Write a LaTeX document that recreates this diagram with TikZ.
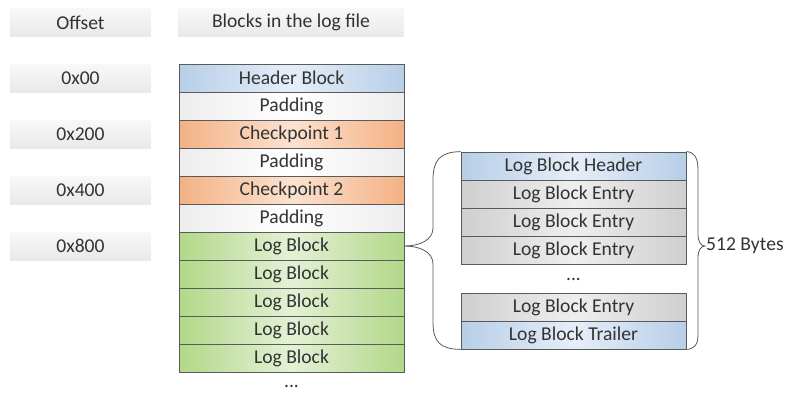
\documentclass[tikz,border=0pt]{standalone}
\usepackage{fontspec}
\setmainfont{Carlito}
\definecolor{txt}{HTML}{333333}
\definecolor{bord}{HTML}{5A5A5A}
\definecolor{blueE}{HTML}{B7CEE8}
\definecolor{blueM}{HTML}{E6EEF8}
\definecolor{orgE}{HTML}{F4B184}
\definecolor{orgM}{HTML}{FBE2D0}
\definecolor{whE}{HTML}{EDEDED}
\definecolor{grnE}{HTML}{B2D889}
\definecolor{grnM}{HTML}{E4F1D6}
\definecolor{gryE}{HTML}{CFCFCF}
\definecolor{gryM}{HTML}{EEEEEE}
\definecolor{lblT}{HTML}{F8F8F8}
\definecolor{lblB}{HTML}{E9E9E9}
\begin{document}
\begin{tikzpicture}[x=1pt,y=-1pt,
  every node/.style={font=\fontsize{19.6}{22}\selectfont, text=txt, inner sep=0pt},
  blk/.style={draw=bord, line width=0.8pt, minimum width=225pt, minimum height=28pt},
  hdrblk/.style={blk, left color=blueE, right color=blueE, middle color=blueM},
  padblk/.style={blk, left color=whE, right color=whE, middle color=white},
  cpblk/.style={blk, left color=orgE, right color=orgE, middle color=orgM},
  logblk/.style={blk, left color=grnE, right color=grnE, middle color=grnM},
  entblk/.style={blk, left color=gryE, right color=gryE, middle color=gryM},
  lbl/.style={minimum width=141pt, minimum height=28pt, top color=lblT, bottom color=lblB},
  brc/.style={draw=bord, line width=0.8pt}]
\useasboundingbox (0,0) rectangle (793,394);
% column titles
\node[lbl] (toff) at (80.5,22.5) {Offset};
\node[lbl, minimum width=226pt] (tblk) at (291,22.5) {Blocks in the log file};
% left column blocks
\node[hdrblk] (b1) at (291.5,78) {Header Block};
\node[padblk] (b2) at (291.5,106) {Padding};
\node[cpblk]  (b3) at (291.5,134) {Checkpoint 1};
\node[padblk] (b4) at (291.5,162) {Padding};
\node[cpblk]  (b5) at (291.5,190) {Checkpoint 2};
\node[padblk] (b6) at (291.5,218) {Padding};
\node[logblk] (b7) at (291.5,246) {Log Block};
\node[logblk] (b8) at (291.5,274) {Log Block};
\node[logblk] (b9) at (291.5,302) {Log Block};
\node[logblk] (b10) at (291.5,330) {Log Block};
\node[logblk] (b11) at (291.5,358) {Log Block};
\node (bdots) at (291.5,386) {...};
% offsets
\node[lbl] (o1) at (80.5,78) {0x00};
\node[lbl] (o2) at (80.5,134) {0x200};
\node[lbl] (o3) at (80.5,190) {0x400};
\node[lbl] (o4) at (80.5,246) {0x800};
% right column
\node[hdrblk] (r1) at (573.5,166) {Log Block Header};
\node[entblk] (r2) at (573.5,194) {Log Block Entry};
\node[entblk] (r3) at (573.5,222) {Log Block Entry};
\node[entblk] (r4) at (573.5,250) {Log Block Entry};
\node (rdots) at (573.5,279) {...};
\node[entblk] (r5) at (573.5,307) {Log Block Entry};
\node[hdrblk] (r6) at (573.5,335) {Log Block Trailer};
% braces
\draw[brc] (r1.north west) .. controls (440,152) and (433,160) .. (433,180)
  -- (433,228) .. controls (433,240) and (420,246) .. (b7.east);
\draw[brc] (b7.east) .. controls (420,246) and (433,252) .. (433,264)
  -- (433,322) .. controls (433,342) and (440,349) .. (r6.south west);
\coordinate (tip) at (705,246);
\draw[brc] (r1.north east) .. controls (694,152) and (698,157) .. (698,170)
  -- (698,234) .. controls (698,242) and (701,246) .. (tip)
  .. controls (701,246) and (698,250) .. (698,258)
  -- (698,335) .. controls (698,345) and (694,349) .. (r6.south east);
\node[anchor=west] (bytes) at (706,246) {512 Bytes};
\end{tikzpicture}
\end{document}
